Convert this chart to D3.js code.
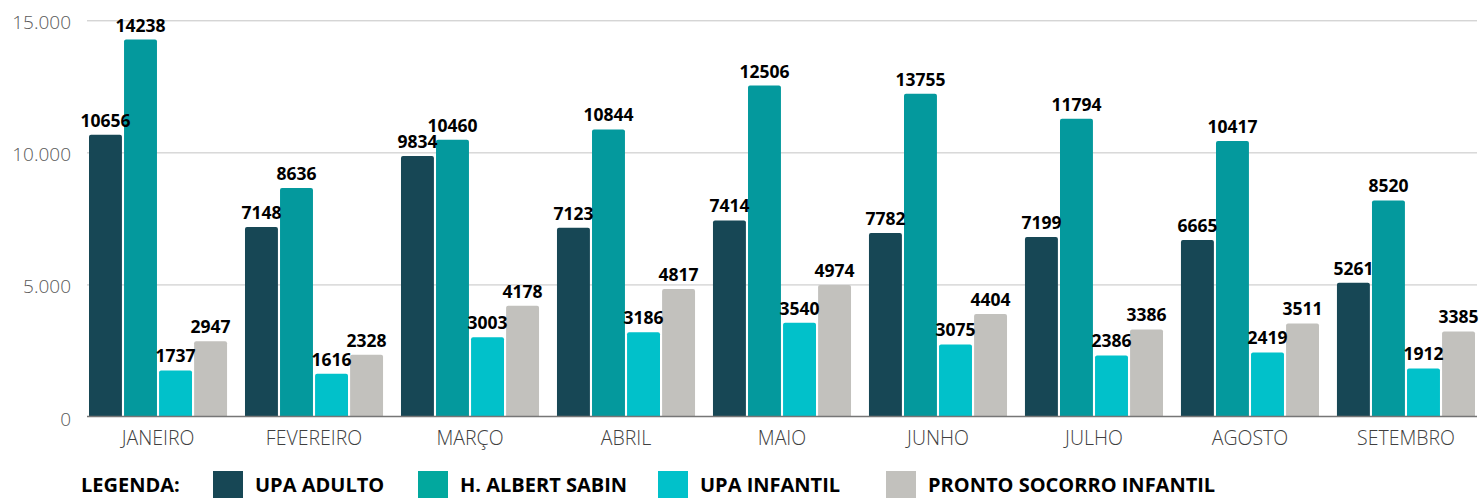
<!DOCTYPE html>
<html>
<head>
<meta charset="utf-8">
<script src="https://cdn.jsdelivr.net/npm/d3@7"></script>
<style>
  html, body { margin: 0; padding: 0; background: #fff; }
  svg { display: block; font-family: "Open Sans", sans-serif; }
</style>
</head>
<body>
<div id="chart"></div>
<script>
// Months and series (bar heights, labels as printed)
let months = ["JANEIRO", "FEVEREIRO", "MARÇO", "ABRIL", "MAIO", "JUNHO", "JULHO", "AGOSTO", "SETEMBRO"];
let seriesNames = ["UPA ADULTO", "H. ALBERT SABIN", "UPA INFANTIL", "PRONTO SOCORRO INFANTIL"];

let upaAdulto     = [10670, 7172, 9860, 7147, 7424, 6944, 6792, 6679, 5064];
let albertSabin   = [14270, 8649, 10480, 10870, 12527, 12223, 11277, 10430, 8182];
let upaInfantil   = [1742, 1617, 3005, 3194, 3548, 2727, 2311, 2424, 1818];
let prontoSocorro = [2853, 2336, 4192, 4823, 4975, 3876, 3295, 3523, 3220];

let labelsUpaAdulto     = ["10656", "7148", "9834", "7123", "7414", "7782", "7199", "6665", "5261"];
let labelsAlbertSabin   = ["14238", "8636", "10460", "10844", "12506", "13755", "11794", "10417", "8520"];
let labelsUpaInfantil   = ["1737", "1616", "3003", "3186", "3540", "3075", "2386", "2419", "1912"];
let labelsProntoSocorro = ["2947", "2328", "4178", "4817", "4974", "4404", "3386", "3511", "3385"];

let yTicks = [0, 5000, 10000, 15000];

let barColors = ["#174755", "#04999d", "#01c1ca", "#c2c1bd"];
let legendColors = ["#174755", "#02a89e", "#01c1ca", "#c2c1bd"];

let allValues = [upaAdulto, albertSabin, upaInfantil, prontoSocorro];
let allLabels = [labelsUpaAdulto, labelsAlbertSabin, labelsUpaInfantil, labelsProntoSocorro];

let W = 1480, H = 498;
let margin = {left: 87, right: 3, top: 20, bottom: 81};

let svg = d3.select("#chart")
  .append("svg")
    .attr("width", W)
    .attr("height", H);

let x0 = d3.scaleBand()
  .domain(months)
  .range([margin.left, W - margin.right])
  .paddingInner(0.115)
  .paddingOuter(0.0128);

let x1 = d3.scaleBand()
  .domain(d3.range(seriesNames.length))
  .range([0, x0.bandwidth()])
  .paddingInner(0.06);

let y = d3.scaleLinear()
  .domain([0, 15000])
  .range([H - margin.bottom - 0.5, margin.top + 0.3]);

let fmt = d3.formatLocale({decimal: ",", thousands: ".", grouping: [3], currency: ["", ""]}).format(",");

// Y axis with gridlines
let yAxis = svg.append("g")
  .attr("transform", "translate(" + margin.left + ",0)")
  .call(d3.axisLeft(y)
    .tickValues(yTicks)
    .tickFormat(fmt)
    .tickSize(-(W - margin.left - margin.right))
    .tickPadding(16));
yAxis.select(".domain").remove();
yAxis.selectAll(".tick line")
  .attr("stroke", "#c4c4c4")
  .attr("stroke-width", 1);
yAxis.selectAll(".tick text")
  .attr("fill", "#595959")
  .attr("font-size", "19px")
  .attr("font-weight", 300)
  .attr("font-family", "'Open Sans', sans-serif")
  .attr("dy", "0.45em");
yAxis.selectAll(".tick").filter(function(d) { return d === 0; }).select("line").remove();

// Bars
function topRounded(xp, yp, w, h, r) {
  r = Math.min(r, h);
  return "M" + xp + "," + (yp + h) +
    "V" + (yp + r) +
    "Q" + xp + "," + yp + " " + (xp + r) + "," + yp +
    "H" + (xp + w - r) +
    "Q" + (xp + w) + "," + yp + " " + (xp + w) + "," + (yp + r) +
    "V" + (yp + h) + "Z";
}

let groups = svg.append("g")
  .selectAll("g")
  .data(months)
  .join("g")
    .attr("transform", function(d) { return "translate(" + x0(d) + ",0)"; });

groups.selectAll("path")
  .data(function(d, i) { return allValues.map(function(s, k) { return {k: k, v: s[i]}; }); })
  .join("path")
    .attr("fill", function(d) { return barColors[d.k]; })
    .attr("d", function(d) {
      return topRounded(x1(d.k), y(d.v), x1.bandwidth(), y(0) - y(d.v), 2);
    });

groups.selectAll("text")
  .data(function(d, i) { return allValues.map(function(s, k) { return {k: k, v: s[i], t: allLabels[k][i]}; }); })
  .join("text")
    .attr("x", function(d) { return x1(d.k) + x1.bandwidth() / 2; })
    .attr("y", function(d) { return y(d.v) - 8; })
    .attr("text-anchor", "middle")
    .attr("font-size", "17.5px")
    .attr("font-weight", 700)
    .attr("fill", "#000")
    .text(function(d) { return d.t; });

// X axis
let xAxis = svg.append("g")
  .attr("transform", "translate(0," + y(0) + ")")
  .call(d3.axisBottom(x0).tickSize(0).tickPadding(15).tickSizeOuter(0));
xAxis.select(".domain")
  .attr("stroke", "#767676")
  .attr("stroke-width", 1.5)
  .attr("d", "M" + margin.left + ",0H" + (W - margin.right));
xAxis.selectAll(".tick text")
  .attr("fill", "#404040")
  .attr("font-size", "19.5px")
  .attr("font-weight", 300)
  .attr("font-family", "'Open Sans', sans-serif");

// Legend
let legendX = [213, 418, 658, 886];
let legend = svg.append("g");
legend.append("text")
  .attr("x", 81)
  .attr("y", 492)
  .attr("font-size", "20px")
  .attr("font-weight", 700)
  .attr("fill", "#000")
  .text("LEGENDA:");
seriesNames.forEach(function(name, k) {
  legend.append("rect")
    .attr("x", legendX[k])
    .attr("y", 471)
    .attr("width", 30)
    .attr("height", 30)
    .attr("fill", legendColors[k]);
  legend.append("text")
    .attr("x", legendX[k] + 42)
    .attr("y", 492)
    .attr("font-size", "20px")
    .attr("font-weight", 700)
    .attr("fill", "#000")
    .text(name);
});
</script>
</body>
</html>
